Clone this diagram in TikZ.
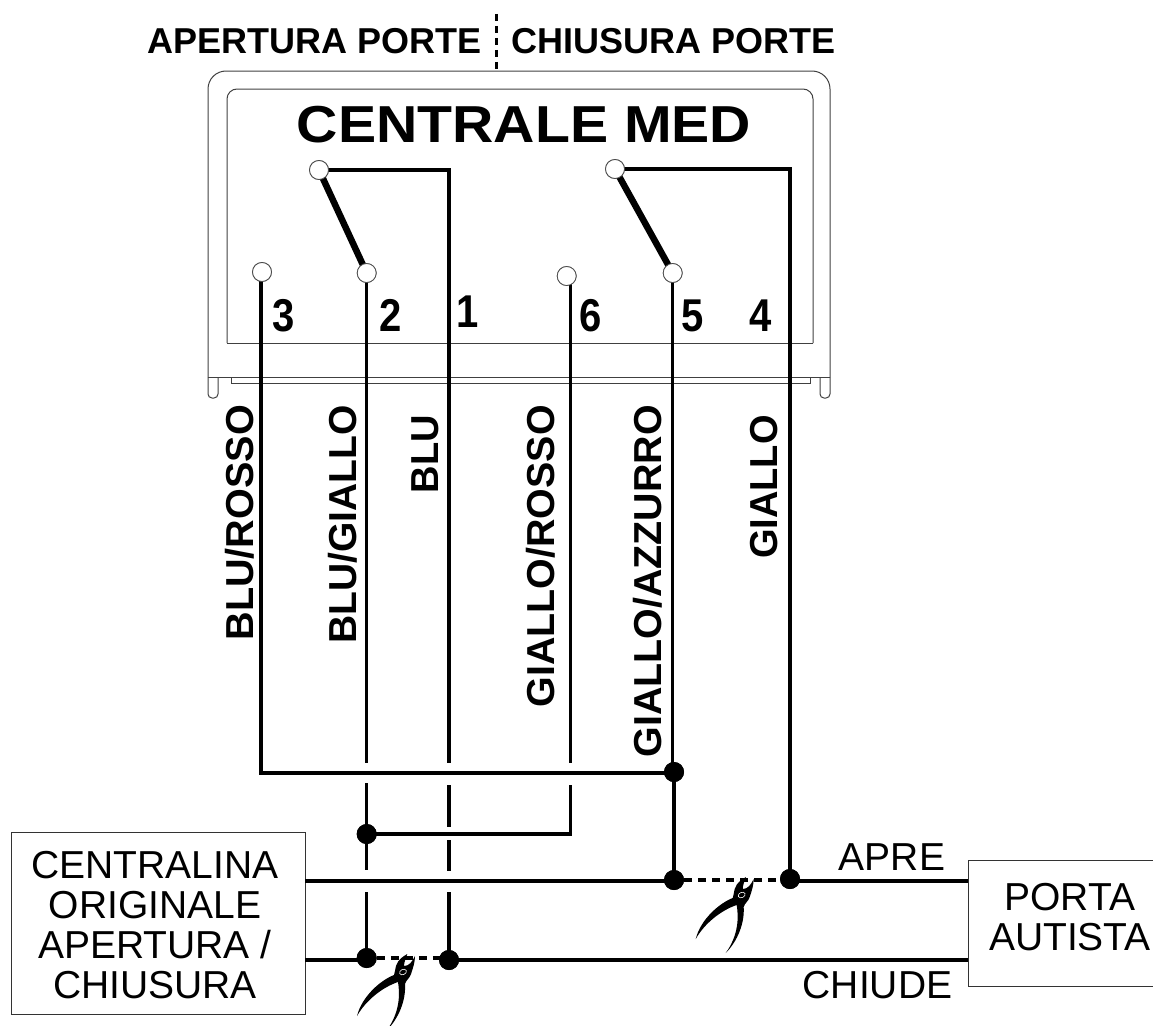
\documentclass[tikz,border=0pt]{standalone}
\usepackage{fontspec}
\setmainfont{Liberation Sans}
\newcommand{\fsz}[1]{\fontsize{#1}{40}\selectfont}
\newcommand{\sx}[2]{\scalebox{#1}[1]{#2}}
\tikzset{
  wire/.style={line width=3.2pt,line cap=butt,line join=miter,black},
  cutwire/.style={line width=3.2pt,black,dash pattern=on 8pt off 6pt},
  arm/.style={line width=6.5pt,black},
  thin/.style={line width=1pt,draw=black!75},
  term/.style={circle,draw=black!70,line width=.8pt,fill=white,minimum size=19pt,inner sep=0pt},
  dot/.style={circle,fill=black,minimum size=20pt,inner sep=0pt},
  box/.style={draw=black!80,line width=1pt},
  big/.style={font=\bfseries\fsz{36},inner sep=0pt,anchor=center},
  title/.style={font=\bfseries\fsz{52},inner sep=0pt},
  num/.style={font=\bfseries\fsz{46},inner sep=0pt},
  vlab/.style={font=\bfseries\fsz{39},inner sep=0pt,rotate=90},
  plain/.style={font=\fsz{39},inner sep=0pt,align=center},
  pliers/.pic={
    \fill[black] (4.3,-18) .. controls (1,-16) and (-5,-13) .. (-7,-6)
      .. controls (-8,-2) and (-8,0) .. (-9,3)
      .. controls (-22,8) and (-41,24) .. (-46,44)
      .. controls (-37,28) and (-20,15) .. (-5,10)
      .. controls (-3,22) and (-3,40) .. (-16,58)
      .. controls (-4,46) and (3,28) .. (2,12)
      .. controls (3,8) and (7,6) .. (8,2)
      .. controls (10,-4) and (12,-10) .. (12,-16)
      .. controls (9,-10) and (6,-6) .. (1,-6)
      .. controls (1,-10) and (3,-14) .. (4.3,-18) -- cycle;
    \draw[white,line width=.6pt,rotate=25] (0,0) ellipse (3.6pt and 2.6pt);
  }
}
\begin{document}
\begin{tikzpicture}[x=1pt,y=-1pt]
\useasboundingbox (0,0) rectangle (1153,1025);
% housing
\draw[thin,rounded corners=18pt] (208,377) -- (208,71) -- (830,71) -- (830,377);
\draw[thin] (208,377) -- (830,377);
\draw[thin,rounded corners=10pt] (227,343) -- (227,89) -- (813,89) -- (813,343);
\draw[thin] (227,343) -- (813,343);
\draw[thin] (231,377) -- (231,383) -- (810,383) -- (810,377);
\draw[thin,rounded corners=4pt] (208,377) -- (208,398) -- (218,398) -- (218,377);
\draw[thin,rounded corners=4pt] (820,377) -- (820,398) -- (830,398) -- (830,377);
% header
\node[big,anchor=east] (hl) at (482,41) {APERTURA PORTE};
\node[big,anchor=west] (hr) at (511,41) {CHIUSURA PORTE};
\coordinate (sepa) at (496.5,14);
\coordinate (sepb) at (496.5,71);
\draw[line width=3pt,dash pattern=on 7pt off 5pt] (sepa) -- (sepb);
\node[title] (med) at (524,125) {\sx{1.1}{CENTRALE MED}};
% terminals
\node[term] (t1) at (319,170) {};
\node[term] (t3) at (262,272) {};
\node[term] (t2) at (366.7,273) {};
\node[term] (t6) at (566.7,276) {};
\node[term] (t5) at (672.7,273) {};
\node[term] (t4) at (615,169) {};
% dots
\node[dot] (j5) at (674,772) {};
\node[dot] (a5) at (674,880) {};
\node[dot] (a4) at (790,879) {};
\node[dot] (j2) at (366.7,834) {};
\node[dot] (c2) at (366.7,958) {};
\node[dot] (c1) at (449,960) {};
% boxes
\node[box,minimum width=294pt,minimum height=182pt,inner sep=0pt] (cent) at (158,923) {};
\node[plain] (centt) at (155,925) {CENTRALINA\\ORIGINALE\\APERTURA /\\CHIUSURA};
\draw[box] (1153,860) -- (968,860) -- (968,986) -- (1153,986);
\node[plain] (portat) at (1070,917) {PORTA\\AUTISTA};
% wire coordinates
\coordinate (w6) at (570.7,283);
\coordinate (lo) at (968,881);
\coordinate (lc) at (968,960);
\coordinate (so) at (305,881);
\coordinate (sc) at (305,960);
% wires
\draw[wire] (t1.center) -| (449,763);
\draw[wire] (449,785) -- (449,827);
\draw[wire] (449,840) -- (449,871);
\draw[wire] (449,892) -- (c1.center);
\draw[wire] (t2.center) -- (366.7,763);
\draw[wire] (366.7,783) -- (j2.center) -- (366.7,870);
\draw[wire] (366.7,892) -- (c2.center);
\draw[wire] (261,272) -- (261,773) -- (j5 |- 261,773);
\draw[wire] (w6) -- (570.7,763);
\draw[wire] (570.7,785) -- (570.7,834) -- (j2.center);
\draw[wire] (t5.center) -- (t5 |- j5);
\draw[wire] (j5.center) -- (a5.center);
\draw[wire] (t4.center) -| (a4.center);
\draw[arm] (t1.center) -- (t2.center);
\draw[arm] (t4.center) -- (t5.center);
\draw[wire] (so) -- (a5 |- so);
\draw[wire] (a4 |- lo) -- (lo);
\draw[wire] (sc) -- (c2 |- sc);
\draw[wire] (c1.center) -- (lc);
\draw[cutwire] (a5.east) -- (a4 |- a5);
\draw[cutwire] (c2.east) -- (c1 |- c2);
% redraw terminals and dots above wires
\node[term] at (t1) {};
\node[term] at (t3) {};
\node[term] at (t2) {};
\node[term] at (t6) {};
\node[term] at (t5) {};
\node[term] at (t4) {};
\node[dot] at (j5) {};
\node[dot] at (a5) {};
\node[dot] at (a4) {};
\node[dot] at (j2) {};
\node[dot] at (c2) {};
\node[dot] at (c1) {};
% numbers
\node[num] (n3) at (284,316) {\sx{.87}{3}};
\node[num] (n2) at (391,315) {\sx{.87}{2}};
\node[num] (n1) at (468,312) {\sx{.87}{1}};
\node[num] (n6) at (591,316) {\sx{.87}{6}};
\node[num] (n5) at (693,316) {\sx{.87}{5}};
\node[num] (n4) at (761,316) {\sx{.87}{4}};
% wire colours
\node[vlab,anchor=east] (v3) at (240,405) {\sx{1.015}{BLU/ROSSO}};
\node[vlab,anchor=east] (v2) at (343,405) {\sx{1.0}{BLU/GIALLO}};
\node[vlab,anchor=east] (v1) at (425,415) {\sx{.975}{BLU}};
\node[vlab,anchor=east] (v6) at (541,405) {\sx{1.01}{GIALLO/ROSSO}};
\node[vlab,anchor=east] (v5) at (648,405) {\sx{1.01}{GIALLO/AZZURRO}};
\node[vlab,anchor=east] (v4) at (764,415) {\sx{.975}{GIALLO}};
% labels
\node[plain] (apre) at (892,857) {APRE};
\node[plain] (chiude) at (877.5,985) {CHIUDE};
% pliers
\begin{scope}
\clip (0,0) rectangle (1153,1025);
\pic at (741.7,895) {pliers};
\pic at (403,972) {pliers};
\end{scope}
\end{tikzpicture}
\end{document}
